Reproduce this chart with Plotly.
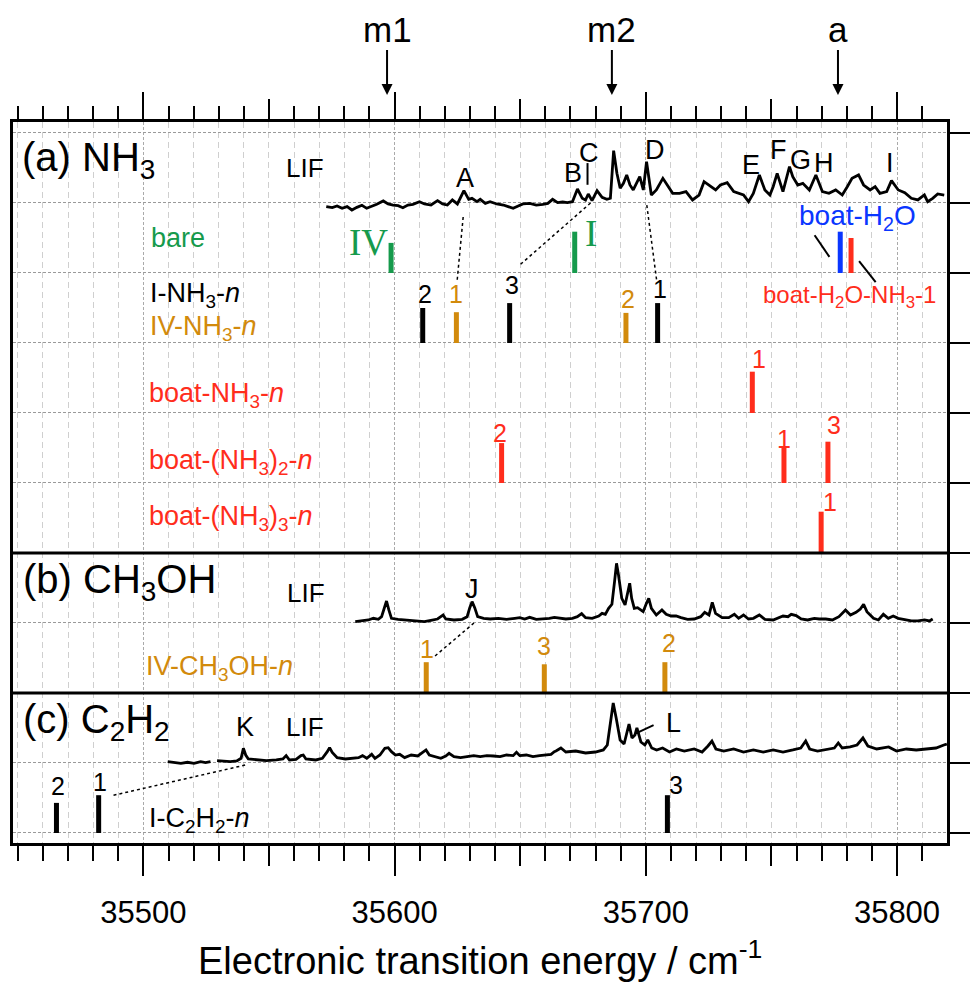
import plotly.graph_objects as go

FONT = "Liberation Sans, Arial, sans-serif"
SERIF = "Liberation Serif, Times New Roman, serif"
GREEN = "#169a4c"
ORANGE = "#d28a0c"
RED = "#ff2d1c"
BLUE = "#0a36ff"

# ---------------- LIF spectra (energy / cm-1, intensity above trace baseline, a.u.) -------------
nh3_E = [35572.8, 35575.2, 35577.1, 35579.1, 35581.1, 35583.0, 35585.0, 35587.0, 35588.9, 35590.9,
         35592.9, 35595.5, 35597.4, 35599.4, 35601.4, 35603.3, 35605.3, 35607.3, 35609.9, 35611.9,
         35614.5, 35617.1, 35619.1, 35621.0, 35623.0, 35625.0, 35627.6, 35629.5, 35630.8, 35632.8,
         35634.1, 35636.1, 35638.0, 35640.7, 35643.3, 35645.2, 35647.2, 35649.2, 35651.1, 35653.8,
         35656.4, 35659.0, 35661.0, 35662.9, 35664.9, 35666.9, 35668.8, 35670.8, 35672.8, 35674.7,
         35676.0, 35677.1, 35678.6, 35680.6, 35682.6, 35684.5, 35685.9, 35687.2, 35688.5, 35689.8,
         35691.1, 35692.4, 35693.7, 35695.0,
         35695.7, 35697.6, 35699.0, 35700.3, 35702.2, 35704.2, 35706.8, 35708.8, 35710.7, 35713.4,
         35716.0, 35718.6, 35721.2, 35723.2, 35725.8, 35727.8, 35729.7, 35732.4, 35735.0, 35737.0,
         35738.9, 35740.9, 35742.8, 35745.2, 35747.4, 35749.4, 35750.7, 35752.3, 35754.6, 35757.2,
         35758.5, 35760.5, 35762.5, 35765.1, 35767.7, 35770.3, 35772.9, 35775.6, 35778.2, 35780.2,
         35782.1, 35784.7, 35786.7, 35789.3, 35791.3, 35793.2, 35795.9, 35797.8, 35800.5, 35803.1,
         35805.7, 35808.3, 35810.9, 35812.2, 35814.2, 35816.2, 35818.8]
nh3_I = [-0.052, -0.067, -0.043, -0.076, -0.052, -0.100, -0.062, -0.033, -0.076, -0.052,
         -0.019, 0.029, -0.014, -0.029, -0.038, -0.067, -0.029, -0.019, 0.019, -0.014,
         -0.029, 0.033, -0.014, -0.029, 0.043, -0.014, 0.176, 0.052, 0.067, 0.019,
         0.052, -0.005, 0.019, -0.014, -0.029, -0.052, -0.076, -0.043, -0.014, -0.005,
         -0.029, -0.019, -0.005, 0.052, 0.005, 0.014, 0.005, 0.019, 0.200, 0.067,
         0.043, 0.129, 0.033, 0.176, 0.081, 0.052, 0.067, 0.748, 0.424, 0.210,
         0.281, 0.400, 0.257, 0.186,
         0.233, 0.376, 0.186, 0.590, 0.114, 0.186, 0.352, 0.233, 0.138, 0.138,
         0.162, 0.043, 0.114, 0.305, 0.233, 0.186, 0.257, 0.290, 0.162, 0.138,
         0.114, 0.019, 0.138, 0.400, 0.186, 0.114, 0.233, 0.424, 0.162, 0.519,
         0.376, 0.257, 0.281, 0.186, 0.400, 0.162, 0.138, 0.186, 0.114, 0.233,
         0.352, 0.400, 0.257, 0.186, 0.233, 0.138, 0.162, 0.319, 0.186, 0.148,
         0.067, 0.043, 0.114, 0.019, 0.067, 0.129, 0.114]

meoh_E = [35584.35, 35586.97, 35589.59, 35591.55, 35593.52, 35594.83, 35595.88, 35596.79, 35597.71, 35598.76,
          35601.38, 35604.00, 35606.62, 35609.23, 35611.85, 35614.47, 35617.09, 35618.40, 35619.32, 35620.37,
          35623.64, 35626.92, 35628.88, 35629.93, 35630.85, 35631.89, 35633.07, 35635.43, 35638.05, 35641.32,
          35644.60, 35647.87, 35649.84, 35651.80, 35653.77, 35656.39, 35659.00, 35661.62, 35663.59, 35665.55,
          35668.17, 35670.79, 35672.76, 35674.46, 35676.03, 35678.65, 35681.27, 35682.58, 35683.89, 35685.20,
          35686.51, 35687.56, 35688.35, 35689.13, 35690.44, 35691.75, 35692.80, 35693.59, 35694.37, 35695.42,
          35696.73, 35698.30,
          35698.95, 35700.26, 35701.18, 35702.23, 35704.19, 35706.42, 35708.12, 35710.09, 35712.05, 35714.02,
          35716.64, 35719.26, 35721.87, 35723.45, 35725.15, 35726.46, 35727.77, 35730.39, 35733.01, 35735.24,
          35736.94, 35738.90, 35740.87, 35742.83, 35745.19, 35747.42, 35750.69, 35754.62, 35756.59, 35757.90,
          35759.86, 35761.82, 35764.44, 35767.06, 35769.03, 35771.65, 35774.27, 35776.88, 35779.50, 35781.47,
          35783.70, 35785.40, 35786.71, 35788.02, 35790.64, 35792.60, 35794.57, 35796.53, 35798.50, 35800.46,
          35803.08, 35805.70, 35808.32, 35810.94, 35812.90, 35814.21]
meoh_I = [0.019, 0.029, 0.043, 0.067, 0.052, 0.090, 0.210, 0.314, 0.186, 0.067,
          0.052, 0.043, 0.038, 0.029, 0.019, 0.038, 0.057, 0.090, 0.114, 0.057,
          0.043, 0.052, 0.090, 0.219, 0.305, 0.219, 0.090, 0.067, 0.057, 0.067,
          0.052, 0.067, 0.076, 0.057, 0.081, 0.052, 0.057, 0.067, 0.081, 0.067,
          0.057, 0.067, 0.090, 0.133, 0.076, 0.067, 0.100, 0.138, 0.124, 0.210,
          0.267, 0.590, 0.852, 0.686, 0.352, 0.257, 0.448, 0.567, 0.352, 0.210,
          0.219, 0.171,
          0.162, 0.281, 0.352, 0.210, 0.114, 0.186, 0.124, 0.100, 0.100, 0.076,
          0.052, 0.057, 0.090, 0.152, 0.114, 0.295, 0.138, 0.076, 0.076, 0.124,
          0.067, 0.114, 0.057, 0.067, 0.114, 0.052, 0.043, 0.100, 0.090, 0.124,
          0.105, 0.057, 0.043, 0.067, 0.057, 0.057, 0.043, 0.090, 0.186, 0.114,
          0.152, 0.200, 0.267, 0.162, 0.067, 0.043, 0.124, 0.067, 0.100, 0.067,
          0.043, 0.029, 0.029, 0.043, 0.029, 0.057]

c2h2_E = [35509.69, 35512.31, 35514.93, 35517.55, 35520.17, 35522.79, 35524.75, 35526.72, None,
          35529.34, 35531.96, 35534.57, 35537.19, 35538.90, 35539.81, 35540.73, 35541.78, 35545.05, 35548.98,
          35552.91, 35555.53, 35556.84, 35558.15, 35560.77, 35562.74, 35563.65, 35564.70, 35568.63, 35571.25,
          35573.21, 35574.13, 35575.18, 35577.14, 35580.42, 35583.04, 35585.65, 35587.23, 35588.93, 35590.89,
          35592.20, 35594.17, 35596.13, 35597.44, 35598.75, 35600.33, 35602.03, 35604.00, 35606.61, 35609.23,
          35611.20, 35612.51, 35613.82, 35615.78, 35618.40, 35620.37, 35621.68, 35623.64, 35626.26, 35628.88,
          35631.50, 35634.12, 35636.74, 35639.36, 35641.98, 35644.60, 35647.21, 35648.52, 35649.83, 35652.45,
          35655.07, 35657.69, 35660.31, 35662.27, 35663.58,
          35664.24, 35666.21, 35668.17, 35672.10, 35676.03, 35679.96, 35683.10, 35684.68, 35685.86, 35687.03,
          35688.21, 35689.78, 35691.36, 35692.53, 35693.32, 35694.50, 35695.68, 35696.46, 35698.04, 35699.61,
          35700.79, 35702.36, 35704.32, 35706.68, 35709.43, 35712.18, 35715.32, 35719.25, 35722.40, 35724.75,
          35726.33, 35727.90, 35731.04, 35734.97, 35738.90, 35742.83, 35746.76, 35750.69, 35754.62, 35758.55,
          35761.69, 35763.65, 35765.23, 35768.37, 35772.30, 35775.05, 35776.62, 35778.19, 35781.34, 35784.09,
          35786.44, 35788.41, 35791.94, 35794.70, 35796.66, 35799.80, 35803.73, 35807.66, 35811.59, 35815.52,
          35818.66, 35819.84]
c2h2_I = [0.019, 0.005, -0.005, 0.010, -0.005, 0.019, 0.005, 0.019, None,
          0.033, 0.029, 0.019, 0.029, 0.067, 0.210, 0.114, 0.057, 0.043, 0.033,
          0.043, 0.057, 0.105, 0.043, 0.052, 0.105, 0.114, 0.057, 0.043, 0.067,
          0.162, 0.219, 0.152, 0.076, 0.057, 0.067, 0.076, 0.105, 0.067, 0.124,
          0.067, 0.114, 0.210, 0.219, 0.162, 0.114, 0.124, 0.076, 0.114, 0.100,
          0.152, 0.186, 0.114, 0.090, 0.067, 0.100, 0.138, 0.090, 0.076, 0.090,
          0.105, 0.090, 0.105, 0.100, 0.090, 0.114, 0.105, 0.152, 0.105, 0.114,
          0.090, 0.105, 0.114, 0.124, 0.162,
          0.171, 0.214, 0.157, 0.171, 0.143, 0.157, 0.186, 0.257, 0.543, 0.857,
          0.643, 0.329, 0.271, 0.429, 0.557, 0.357, 0.400, 0.500, 0.300, 0.257,
          0.329, 0.214, 0.186, 0.214, 0.157, 0.200, 0.171, 0.200, 0.157, 0.243,
          0.314, 0.200, 0.171, 0.200, 0.157, 0.186, 0.157, 0.186, 0.157, 0.186,
          0.214, 0.314, 0.200, 0.171, 0.200, 0.214, 0.286, 0.214, 0.229, 0.257,
          0.357, 0.243, 0.200, 0.214, 0.229, 0.171, 0.200, 0.186, 0.200, 0.214,
          0.257, 0.271]

# ---------------- calculated transition energies (cm-1), stick heights, cluster size n ----------
bare_E = [35598.6, 35671.7]
bare_h = [0.43, 0.59]
bare_name = ["IV", "I"]

i_nh3_E = [35611.2, 35645.8, 35704.7]
i_nh3_h = [0.50, 0.57, 0.57]
i_nh3_n = ["2", "3", "1"]

iv_nh3_E = [35624.6, 35692.1]
iv_nh3_h = [0.44, 0.43]
iv_nh3_n = ["1", "2"]

boat_h2o_E = [35777.4]
boat_h2o_h = [0.59]
boat_h2o_nh3_E = [35781.7]
boat_h2o_nh3_h = [0.50]

boat_nh3_E = [35742.4]
boat_nh3_h = [0.59]
boat_nh3_n = ["1"]

boat_nh3x2_E = [35642.6, 35755.0, 35772.5]
boat_nh3x2_h = [0.57, 0.51, 0.59]
boat_nh3x2_n = ["2", "1", "3"]

boat_nh3x3_E = [35769.8]
boat_nh3x3_h = [0.59]
boat_nh3x3_n = ["1"]

iv_meoh_E = [35612.6, 35659.6, 35707.6]
iv_meoh_h = [0.44, 0.41, 0.44]
iv_meoh_n = ["1", "3", "2"]

i_c2h2_E = [35465.4, 35482.2, 35708.6]
i_c2h2_h = [0.43, 0.54, 0.54]
i_c2h2_n = ["2", "1", "3"]

# monomer / aggregate band origins marked on top
mark_E = [35597.0, 35686.5, 35776.5]
mark_lab = ["m1", "m2", "a"]

# peak letters on the LIF traces
peak_lab = ["A", "B", "C", "D", "E", "F", "G", "H", "I", "J", "K", "L"]
peak_E = [35628.1, 35670.9, 35677.2, 35703.5, 35741.7, 35752.7, 35761.7, 35771.1, 35797.1, 35630.8, 35540.5, 35711.0]

X_RANGE = [35448.1, 35819.9]
Y_RANGE = [-0.143, 10.157]

fig = go.Figure()


def trace_line(E, I, base):
    y = [None if v is None else base + v for v in I]
    fig.add_trace(go.Scatter(x=E, y=y, mode="lines", line=dict(color="black", width=2.8),
                             connectgaps=False, hoverinfo="skip"))


def sticks(E, h, base, color):
    xs, ys = [], []
    for e, hh in zip(E, h):
        xs += [e, e, None]
        ys += [base, base + hh, None]
    fig.add_trace(go.Scatter(x=xs, y=ys, mode="lines", line=dict(color=color, width=5),
                             hoverinfo="skip"))


annotations = []


def text(x, y, s, size=26, color="black", xanchor="center", family=FONT, xref="x", yref="y"):
    annotations.append(dict(x=x, y=y, xref=xref, yref=yref, text=s, showarrow=False,
                            xanchor=xanchor, yanchor="middle",
                            font=dict(family=family, size=size, color=color)))


def stick_labels(E, h, base, labels, color, offsets):
    for e, hh, lab, (dx, dy) in zip(E, h, labels, offsets):
        annotations.append(dict(x=e, y=base + hh, xref="x", yref="y", text=lab, showarrow=False,
                                xanchor="center", yanchor="middle", xshift=dx, yshift=dy,
                                font=dict(family=FONT, size=25, color=color)))


# spectra
trace_line(nh3_E, nh3_I, 9)
trace_line(meoh_E, meoh_I, 3)
trace_line(c2h2_E, c2h2_I, 1)

# sticks
sticks(bare_E, bare_h, 8, GREEN)
sticks(i_nh3_E, i_nh3_h, 7, "black")
sticks(iv_nh3_E, iv_nh3_h, 7, ORANGE)
sticks(boat_h2o_E, boat_h2o_h, 8, BLUE)
sticks(boat_h2o_nh3_E, boat_h2o_nh3_h, 8, RED)
sticks(boat_nh3_E, boat_nh3_h, 6, RED)
sticks(boat_nh3x2_E, boat_nh3x2_h, 5, RED)
sticks(boat_nh3x3_E, boat_nh3x3_h, 4, RED)
sticks(iv_meoh_E, iv_meoh_h, 2, ORANGE)
sticks(i_c2h2_E, i_c2h2_h, 0, "black")

stick_labels(i_nh3_E, i_nh3_h, 7, i_nh3_n, "black", [(2, 14), (2, 18), (2, 14)])
stick_labels(iv_nh3_E, iv_nh3_h, 7, iv_nh3_n, ORANGE, [(0, 18), (2, 14)])
stick_labels(boat_nh3_E, boat_nh3_h, 6, boat_nh3_n, RED, [(7, 13)])
stick_labels(boat_nh3x2_E, boat_nh3x2_h, 5, boat_nh3x2_n, RED, [(-2, 10), (0, 8), (6, 17)])
stick_labels(boat_nh3x3_E, boat_nh3x3_h, 4, boat_nh3x3_n, RED, [(9, 10)])
stick_labels(iv_meoh_E, iv_meoh_h, 2, iv_meoh_n, ORANGE, [(1, 13), (0, 18), (4, 19)])
stick_labels(i_c2h2_E, i_c2h2_h, 0, i_c2h2_n, "black", [(2, 17), (1, 13), (9, 10)])

# bare-molecule conformer names next to their sticks
text(35589.6, 8.44, bare_name[0], size=37, color=GREEN, family=SERIF)
text(35678.0, 8.56, bare_name[1], size=37, color=GREEN, family=SERIF)

# panel titles and row captions
text(35450.8, 9.62, "(a) NH<sub>3</sub>", size=40, xanchor="left")
text(35451.2, 3.58, "(b) CH<sub>3</sub>OH", size=40, xanchor="left")
text(35451.2, 1.58, "(c) C<sub>2</sub>H<sub>2</sub>", size=40, xanchor="left")
text(35564.4, 9.50, "LIF", size=26)
text(35564.8, 3.43, "LIF", size=26)
text(35564.4, 1.51, "LIF", size=26)
text(35502.4, 8.50, "bare", size=27, color=GREEN, xanchor="left")
text(35502.0, 7.69, "I-NH<sub>3</sub>-<i>n</i>", size=27, xanchor="left")
text(35502.0, 7.21, "IV-NH<sub>3</sub>-<i>n</i>", size=27, color=ORANGE, xanchor="left")
text(35784.1, 8.79, "boat-H<sub>2</sub>O", size=28, color=BLUE)
text(35780.9, 7.66, "boat-H<sub>2</sub>O-NH<sub>3</sub>-1", size=24, color=RED)
text(35501.6, 6.26, "boat-NH<sub>3</sub>-<i>n</i>", size=27, color=RED, xanchor="left")
text(35501.6, 5.30, "boat-(NH<sub>3</sub>)<sub>2</sub>-<i>n</i>", size=27, color=RED, xanchor="left")
text(35501.6, 4.50, "boat-(NH<sub>3</sub>)<sub>3</sub>-<i>n</i>", size=27, color=RED, xanchor="left")
text(35500.4, 2.36, "IV-CH<sub>3</sub>OH-<i>n</i>", size=27, color=ORANGE, xanchor="left")
text(35501.6, 0.19, "I-C<sub>2</sub>H<sub>2</sub>-<i>n</i>", size=27, xanchor="left")

peak_y = [9.36, 9.43, 9.71, 9.76, 9.54, 9.76, 9.61, 9.57, 9.57, 3.49, 1.51, 1.57]
for e, yy, lab in zip(peak_E, peak_y, peak_lab):
    text(e, yy, lab, size=27)

# markers above the frame
for e, lab in zip(mark_E, mark_lab):
    annotations.append(dict(x=e, y=1.0374, xref="x", yref="paper", text=lab, showarrow=True,
                            ax=0, ay=-66, arrowhead=2, arrowsize=1.1, arrowwidth=2,
                            arrowcolor="black", font=dict(family=FONT, size=35, color="black")))

annotations.append(dict(x=0.5, y=-0.1595, xref="paper", yref="paper", showarrow=False,
                        text="Electronic transition energy / cm<sup>-1</sup>",
                        font=dict(family=FONT, size=38, color="black"),
                        xanchor="center", yanchor="middle"))

shapes = []
# panel separators
for yy in [2, 4]:
    shapes.append(dict(type="line", xref="paper", yref="y", x0=0, x1=1, y0=yy, y1=yy,
                       line=dict(color="black", width=3)))

# assignment connectors (dotted)
for x0, y0, x1, y1 in [(35627.3, 8.80, 35624.9, 7.89), (35678.0, 9.00, 35649.7, 8.11),
                       (35700.4, 8.97, 35704.3, 7.90), (35631.6, 3.00, 35615.5, 2.51),
                       (35540.5, 0.97, 35487.0, 0.53)]:
    shapes.append(dict(type="line", xref="x", yref="y", x0=x0, y0=y0, x1=x1, y1=y1,
                       line=dict(color="black", width=1.5, dash="dot")))
# label pointers (solid)
for x0, y0, x1, y1 in [(35767.2, 8.54, 35773.1, 8.23), (35784.9, 8.17, 35791.5, 7.87),
                       (35696.5, 1.43, 35703.1, 1.54), (35676.8, 9.57, 35676.8, 9.26)]:
    shapes.append(dict(type="line", xref="x", yref="y", x0=x0, y0=y0, x1=x1, y1=y1,
                       line=dict(color="black", width=2)))

# helper traces so that the extra tick axes get drawn
for ax in ["x2", "x3", "x4"]:
    fig.add_trace(go.Scatter(x=[35600], y=[0], xaxis=ax, mode="markers",
                             marker=dict(opacity=0), hoverinfo="skip"))

tick_font = dict(family=FONT, size=31, color="black")
fig.update_layout(
    width=977, height=985, margin=dict(l=10, r=21, t=122, b=142),
    plot_bgcolor="white", paper_bgcolor="white", showlegend=False,
    annotations=annotations, shapes=shapes,
    xaxis=dict(range=X_RANGE, showline=True, linewidth=2.5, linecolor="black", mirror=True,
               ticks="outside", tick0=35500, dtick=100, ticklen=30, tickwidth=2, tickcolor="black",
               tickformat="d", tickfont=tick_font, ticklabelstandoff=10, zeroline=False,
               showgrid=True, gridcolor="#aaaaaa", gridwidth=1, griddash="3px,2px",
               minor=dict(tick0=35500, dtick=10, ticks="outside", ticklen=15, tickwidth=2,
                          tickcolor="black", showgrid=True, gridcolor="#cfcfcf", gridwidth=1,
                          griddash="6px,4px")),
    xaxis2=dict(range=X_RANGE, overlaying="x", side="top", anchor="y", showline=False,
                ticks="outside", tick0=35500, dtick=100, ticklen=29, tickwidth=2, tickcolor="black",
                showticklabels=False, showgrid=False, zeroline=False,
                minor=dict(tick0=35500, dtick=10, ticks="outside", ticklen=15, tickwidth=2,
                           tickcolor="black", showgrid=False)),
    xaxis3=dict(range=X_RANGE, overlaying="x", side="bottom", anchor="y", showline=False,
                ticks="outside", tickvals=[35550, 35650, 35750], ticklen=22, tickwidth=2,
                tickcolor="black", showticklabels=False, showgrid=False, zeroline=False),
    xaxis4=dict(range=X_RANGE, overlaying="x", side="top", anchor="y", showline=False,
                ticks="outside", tickvals=[35550, 35650, 35750], ticklen=22, tickwidth=2,
                tickcolor="black", showticklabels=False, showgrid=False, zeroline=False),
    yaxis=dict(range=Y_RANGE, side="right", showline=True, linewidth=2.5, linecolor="black",
               mirror=True, ticks="outside", tick0=0, dtick=1, ticklen=20, tickwidth=2,
               tickcolor="black", showticklabels=False, zeroline=False,
               showgrid=True, gridcolor="#9a9a9a", gridwidth=1, griddash="3px,2px"),
)

fig.write_html("out.html")
